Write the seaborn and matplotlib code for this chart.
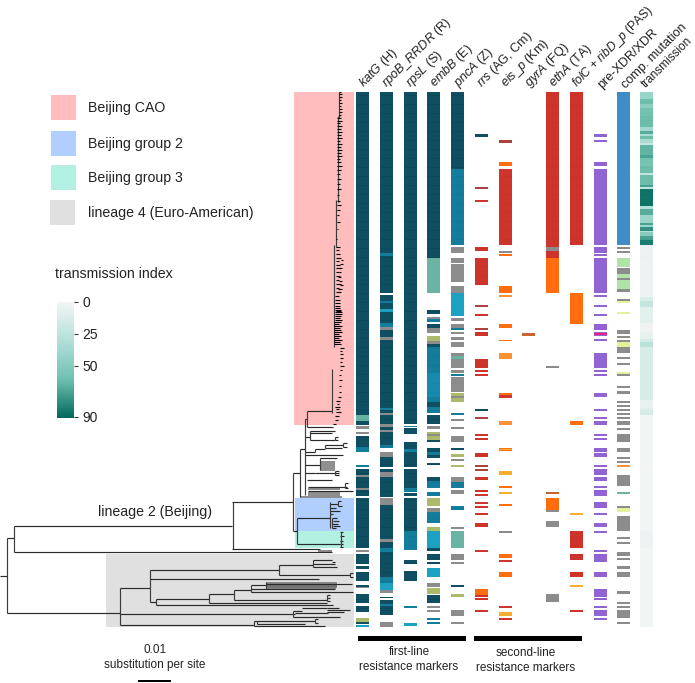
#!/usr/bin/env python
"""Phylogeny of resistant isolates with a strip of resistance markers per isolate."""
import numpy as np
import pandas as pd
import matplotlib
matplotlib.use('Agg')
import matplotlib.pyplot as plt
from matplotlib.colors import ListedColormap, LinearSegmentedColormap
from matplotlib.patches import Rectangle
from matplotlib.transforms import ScaledTranslation
import seaborn as sb

sb.set_style('white')
plt.rcParams['font.family'] = ['Liberation Sans', 'DejaVu Sans']
plt.rcParams['mathtext.fontset'] = 'custom'
plt.rcParams['mathtext.it'] = 'Liberation Sans:italic'
plt.rcParams['mathtext.rm'] = 'Liberation Sans'

n_rows = 535

# marker categories, letter -> colour
category_colors = {
    'D': '#0b4a5e', 'M': '#0e7a99', 'C': '#1288ad', 'B': '#189fc2', 'S': '#66b3a1', 'G': '#8a8a8a',
    'O': '#a9b968', 'R': '#cc3026', 'X': '#a8403a', 'F': '#ff6a0a', 'L': '#fb9030',
    'A': '#f4ae28', 'P': '#8e62d2', 'H': '#ea1f7a', 'U': '#3b8bc6', 'N': '#afe3a3',
    'Y': '#e5f09b', 'T': '#c8602a',
}

column_labels = [
    r'$\mathit{katG}$ (H)', r'$\mathit{rpoB\_RRDR}$ (R)', r'$\mathit{rpsL}$ (S)',
    r'$\mathit{embB}$ (E)', r'$\mathit{pncA}$ (Z)', r'$\mathit{rrs}$ (AG, Cm)',
    r'$\mathit{eis\_p}$ (Km)', r'$\mathit{gyrA}$ (FQ)', r'$\mathit{ethA}$ (TA)',
    r'$\mathit{folC}$ + $\mathit{ribD\_p}$ (PAS)', 'pre-XDR/XDR', 'comp. mutation',
]

# runs of isolates: (first row, last row, category), later runs paint over earlier
katg_runs = [(0, 323, 'D'), (323, 329, 'S'), (329, 333, 'D'), (334, 337, 'G'), (340, 342, 'G'),
             (344, 355, 'D'), (355, 360, 'M'), (373, 375, 'M'), (377, 383, 'D'), (383, 385, 'G'),
             (385, 396, 'D'), (396, 398, 'G'), (398, 404, 'D'), (406, 456, 'D'), (458, 460, 'G'),
             (462, 472, 'D'), (474, 477, 'D'), (480, 489, 'D'), (493, 495, 'D'), (495, 496, 'G'),
             (502, 511, 'D'), (514, 520, 'D'), (526, 530, 'O'), (530, 532, 'D'), (533, 535, 'B')]
rpob_runs = [(0, 201, 'D'), (161, 164, 'M'), (203, 350, 'D'), (209, 211, 'M'), (217, 220, 'B'),
             (231, 235, 'M'), (235, 238, 'G'), (245, 248, 'G'), (316, 318, 'M'), (321, 323, 'G'),
             (332, 335, 'G'), (335, 338, 'D'), (338, 340, 'G'), (340, 350, 'D'), (342, 353, 'D'),
             (353, 356, 'M'), (360, 365, 'G'), (365, 375, 'D'), (377, 380, 'D'), (380, 385, 'G'),
             (385, 400, 'D'), (400, 405, 'D'), (406, 413, 'G'), (413, 447, 'D'), (447, 450, 'G'),
             (450, 456, 'D'), (456, 460, 'M'), (460, 485, 'D'), (485, 491, 'M'), (491, 498, 'B'),
             (498, 501, 'G'), (505, 506, 'D'), (508, 523, 'D'), (512, 514, 'M'), (530, 535, 'G')]
rpsl_runs = [(0, 332, 'D'), (334, 335, 'M'), (336, 342, 'D'), (350, 375, 'D'), (357, 360, 'M'),
             (377, 400, 'D'), (396, 400, 'M'), (401, 404, 'D'), (406, 439, 'D'), (439, 458, 'M'),
             (468, 472, 'D'), (479, 489, 'D'), (514, 516, 'M'), (531, 534, 'B')]
embb_runs = [(0, 166, 'D'), (166, 201, 'S'), (218, 222, 'D'), (225, 227, 'G'), (227, 230, 'M'),
             (232, 236, 'D'), (236, 241, 'G'), (244, 249, 'O'), (249, 252, 'G'), (252, 255, 'D'),
             (255, 281, 'M'), (281, 305, 'C'), (305, 310, 'M'), (310, 315, 'D'), (315, 321, 'M'),
             (323, 332, 'D'), (334, 337, 'G'), (340, 349, 'O'), (342, 344, 'G'), (348, 350, 'D'),
             (356, 360, 'D'), (360, 363, 'M'), (363, 366, 'D'), (371, 373, 'D'), (385, 389, 'D'),
             (389, 396, 'M'), (400, 404, 'M'), (406, 414, 'O'), (416, 420, 'G'), (420, 431, 'M'),
             (435, 439, 'O'), (439, 456, 'B'), (456, 459, 'D'), (462, 468, 'D'), (470, 472, 'D'),
             (476, 485, 'B'), (491, 495, 'G'), (496, 502, 'O'), (503, 511, 'D'), (514, 516, 'G'),
             (518, 520, 'G'), (526, 528, 'M'), (530, 532, 'M')]
pnca_runs = [(0, 77, 'D'), (77, 153, 'M'), (155, 161, 'G'), (166, 171, 'G'), (172, 190, 'G'),
             (194, 201, 'G'), (201, 224, 'B'), (226, 229, 'G'), (232, 236, 'G'), (236, 238, 'M'),
             (240, 242, 'G'), (245, 248, 'G'), (250, 255, 'G'), (261, 276, 'G'), (264, 267, 'S'),
             (278, 281, 'G'), (282, 284, 'M'), (285, 300, 'G'), (301, 304, 'O'), (304, 306, 'G'),
             (306, 310, 'O'), (321, 323, 'M'), (327, 329, 'G'), (335, 337, 'G'), (344, 350, 'G'),
             (356, 358, 'D'), (362, 365, 'O'), (367, 369, 'G'), (373, 375, 'O'), (385, 390, 'G'),
             (390, 396, 'M'), (398, 402, 'G'), (414, 418, 'M'), (435, 437, 'G'), (439, 456, 'S'),
             (462, 468, 'G'), (470, 472, 'G'), (493, 495, 'D'), (502, 505, 'O'), (518, 524, 'G'),
             (530, 532, 'G')]
rrs_runs = [(42, 45, 'D'), (95, 97, 'X'), (108, 110, 'R'), (155, 159, 'R'), (166, 193, 'R'),
            (213, 215, 'X'), (222, 224, 'R'), (236, 238, 'X'), (240, 244, 'R'), (267, 276, 'R'),
            (278, 280, 'R'), (282, 284, 'R'), (317, 319, 'D'), (325, 327, 'X'), (342, 344, 'R'),
            (346, 348, 'R'), (361, 365, 'R'), (373, 375, 'X'), (377, 379, 'X'), (385, 388, 'R'),
            (398, 400, 'R'), (402, 404, 'R'), (410, 412, 'R'), (414, 416, 'R'), (421, 423, 'R'),
            (431, 435, 'R'), (458, 460, 'R'), (497, 503, 'F'), (503, 505, 'R'), (506, 508, 'R'),
            (518, 520, 'R')]
eis_runs = [(48, 51, 'X'), (70, 74, 'F'), (77, 153, 'R'), (159, 161, 'G'), (162, 164, 'F'),
            (194, 201, 'F'), (203, 205, 'L'), (232, 236, 'F'), (248, 249, 'F'), (261, 267, 'L'),
            (301, 303, 'F'), (303, 306, 'R'), (329, 333, 'L'), (356, 359, 'F'), (357, 358, 'A'),
            (379, 383, 'A'), (394, 396, 'F'), (400, 402, 'A'), (412, 414, 'F'), (439, 441, 'G'),
            (462, 466, 'F'), (468, 470, 'R'), (480, 485, 'F'), (514, 516, 'R'), (520, 524, 'A'),
            (526, 528, 'R')]
gyra_runs = [(241, 244, 'T')]
etha_runs = [(0, 155, 'R'), (155, 159, 'G'), (159, 166, 'R'), (166, 201, 'F'), (274, 276, 'G'),
             (400, 402, 'T'), (406, 418, 'F'), (418, 420, 'G'), (429, 435, 'G'), (502, 510, 'G')]
folc_runs = [(0, 153, 'R'), (201, 232, 'F'), (329, 333, 'F'), (421, 423, 'A'), (439, 456, 'R'),
             (462, 468, 'R'), (480, 485, 'R'), (493, 495, 'A'), (518, 520, 'R')]
prexdr_runs = [(42, 45, 'P'), (48, 50, 'P'), (70, 74, 'P'), (77, 153, 'P'), (155, 161, 'P'),
               (162, 164, 'P'), (166, 201, 'P'), (203, 205, 'P'), (213, 215, 'P'), (222, 224, 'P'),
               (232, 238, 'P'), (240, 244, 'P'), (241, 243, 'H'), (247, 249, 'P'), (261, 276, 'P'),
               (278, 280, 'P'), (282, 284, 'P'), (301, 305, 'P'), (317, 319, 'P'), (325, 327, 'P'),
               (329, 333, 'P'), (342, 344, 'P'), (346, 348, 'P'), (356, 360, 'P'), (361, 365, 'P'),
               (373, 375, 'P'), (377, 383, 'P'), (385, 389, 'P'), (394, 396, 'P'), (398, 404, 'P'),
               (410, 416, 'P'), (421, 423, 'P'), (431, 435, 'P'), (439, 441, 'P'), (458, 460, 'P'),
               (462, 468, 'P'), (468, 470, 'P'), (480, 485, 'P'), (497, 505, 'P'), (506, 508, 'P'),
               (514, 516, 'P'), (518, 524, 'P'), (526, 528, 'P')]
comp_runs = [(0, 153, 'U'), (155, 157, 'G'), (159, 161, 'G'), (166, 175, 'N'), (176, 182, 'G'),
             (182, 186, 'N'), (186, 188, 'G'), (188, 197, 'N'), (197, 200, 'G'), (207, 209, 'G'),
             (209, 211, 'Y'), (220, 222, 'Y'), (238, 242, 'G'), (244, 246, 'G'), (248, 250, 'G'),
             (250, 255, 'Y'), (255, 261, 'G'), (265, 267, 'G'), (271, 273, 'G'), (280, 282, 'Y'),
             (282, 284, 'G'), (294, 296, 'G'), (299, 302, 'G'), (309, 311, 'G'), (313, 315, 'G'),
             (317, 319, 'G'), (321, 323, 'G'), (325, 327, 'G'), (329, 333, 'G'), (336, 338, 'G'),
             (342, 350, 'G'), (356, 360, 'G'), (365, 367, 'G'), (369, 371, 'G'), (373, 375, 'L'),
             (383, 394, 'G'), (400, 402, 'S'), (414, 416, 'G'), (416, 420, 'Y'), (424, 439, 'G'),
             (445, 447, 'G'), (450, 452, 'G'), (460, 464, 'G'), (466, 468, 'G'), (474, 477, 'G'),
             (480, 485, 'G'), (499, 502, 'G'), (510, 512, 'G'), (514, 516, 'G'), (518, 526, 'G'),
             (530, 532, 'G')]
marker_runs = [katg_runs, rpob_runs, rpsl_runs, embb_runs, pnca_runs, rrs_runs, eis_runs, gyra_runs,
               etha_runs, folc_runs, prexdr_runs, comp_runs]

# transmission index along the isolates: (first row, last row, index)
transmission_runs = [
    (0, 7, 42), (7, 12, 62), (12, 16, 48), (16, 24, 60), (24, 35, 62), (35, 39, 38), (39, 42, 68),
    (42, 44, 35), (44, 47, 62), (47, 51, 35), (51, 53, 20), (53, 63, 65), (63, 66, 72), (66, 71, 60),
    (71, 74, 58), (74, 81, 62), (81, 83, 22), (83, 93, 62), (93, 95, 72), (95, 97, 25), (97, 114, 88),
    (114, 117, 30), (117, 123, 68), (123, 126, 40), (126, 131, 42), (131, 133, 72), (133, 135, 42),
    (135, 139, 78), (139, 140, 30), (140, 144, 50), (144, 148, 72), (148, 153, 85), (153, 168, 4),
    (168, 205, 3), (205, 209, 12), (209, 215, 22), (215, 231, 8), (231, 240, 2), (240, 247, 6),
    (247, 250, 15), (250, 255, 28), (255, 308, 13), (308, 316, 5), (316, 318, 8), (318, 323, 15),
    (323, 439, 1), (439, 456, 3), (456, 535, 1),
]
transmission_ticks = [0, 25, 50, 90]
transmission_colors = ['#f3f5f5', '#b2e0d8', '#6fc0ae', '#00695c']

legend_labels = ['Beijing CAO', 'Beijing group 2', 'Beijing group 3', 'lineage 4 (Euro-American)']
legend_colors = ['#ffbdbd', '#b0cfff', '#b2f0e2', '#e0e0e0']

# clade shading: (first x, last x, first row, last row, colour)
clade_spans = [(294, 354, 0, 333, legend_colors[0]), (295, 354, 406, 439, legend_colors[1]),
               (295, 354, 439, 456, legend_colors[2]), (106, 354, 462, 535, legend_colors[3])]

# tree, x in divergence units (32.3 = 0.01 substitution per site), y in rows
# horizontal branches: (first x, last x, row)
tree_branches = [
    (0, 7, 484), (7, 14, 446), (7, 120, 521), (14, 232, 434), (14, 332, 460), (232, 293, 410), (232, 320, 457),
    (293, 300, 381), (293, 297, 439), (297, 330, 426), (297, 340, 452),
    (300, 305, 357), (305, 307, 327), (307, 332, 319), (307, 333, 335),
    (340, 343, 440), (340, 344, 444), (340, 343, 449), (340, 343, 452), (340, 343, 455),
    (330, 338, 412), (338, 341, 409), (338, 342, 414), (330, 336, 416), (330, 340, 419), (330, 333, 422),
    (332, 337, 426), (333, 339, 429), (332, 338, 432), (333, 340, 434), (332, 336, 436),
    (310, 335, 339), (310, 332, 341), (310, 335, 348), (335, 338, 345), (335, 338, 348),
    (305, 310, 345), (305, 315, 360), (315, 325, 357), (325, 342, 356), (325, 343, 353), (343, 347, 351),
    (343, 347, 355), (305, 343, 363), (305, 320, 373), (320, 337, 366),
    (305, 315, 381), (315, 339, 381), (335, 339, 379),
    (335, 339, 383), (307, 332, 388), (308, 347, 395), (345, 348, 391), (345, 348, 396), (308, 353, 399),
    (120, 150, 496), (120, 295, 522), (120, 254, 533), (293, 302, 519), (302, 327, 516), (327, 339, 516),
    (327, 350, 518), (295, 328, 521), (293, 340, 525), (327, 344, 520),
    (254, 257, 529), (257, 315, 529), (315, 318, 527), (315, 318, 531), (257, 305, 532), (254, 325, 534),
    (150, 279, 478), (279, 313, 473), (279, 350, 483), (350, 353, 481), (350, 353, 485), (313, 332, 468),
    (313, 337, 475), (313, 335, 472), (332, 335, 470), (150, 319, 487), (150, 156, 510), (156, 209, 507),
    (156, 333, 513), (209, 234, 502), (209, 327, 511), (327, 330, 503), (327, 330, 506), (327, 330, 509),
    (234, 251, 498), (234, 327, 508), (251, 353, 500), (251, 335, 497), (251, 266, 493), (266, 352, 492),
]
# closely packed branches, they merge to a grey band
tree_bundles = [
    (318, 332, 459), (300, 342, 405), (308, 340, 397), (308, 340, 401), (308, 340, 403),
    (320, 335, 370), (320, 335, 372), (320, 335, 374), (320, 335, 376), (320, 335, 378),
    (266, 337, 491), (266, 337, 493), (266, 337, 494), (266, 337, 495), (266, 336, 496),
]
# vertical connectors: (x, first row, last row)
tree_links = [
    (7, 446, 521), (14, 434, 460), (232.5, 410, 457), (293, 381, 439), (297, 426, 452), (340.5, 440, 455),
    (330, 410, 436), (300, 357, 405), (305, 327, 403), (307, 319, 335), (332, 277, 321), (334, 153, 255),
    (336, 108, 155), (337.5, 24, 110), (339, 0, 26), (120, 496, 533), (150, 478, 510), (279, 473, 483),
    (313, 468, 475), (156, 507, 513), (209, 502, 511), (234, 498, 508), (251, 493, 500), (266, 490, 497),
    (293, 519, 525), (254, 529, 534), (257, 529, 532), (310, 339, 348), (315, 357, 360), (325, 353, 356),
    (320, 366, 378), (315, 381, 381), (338, 409, 414), (343, 351, 355), (335, 345, 348), (335, 379, 383),
    (345, 391, 396), (350, 481, 485), (315, 527, 531), (327, 503, 509), (332, 426, 436),
]
# short terminal branches of the CAO ladder: (row, first x, last x)
cao_tips = [
    (0, 339, 341), (2, 339, 342), (5, 339, 342), (8, 339, 341), (11, 339, 342), (14, 339, 341), (17, 339, 342),
    (20, 339, 342), (23, 339, 341), (26, 337, 341), (29, 337, 342), (31, 337, 340), (34, 337, 342), (37, 337, 341),
    (40, 337, 342), (43, 337, 341), (46, 337, 342), (49, 337, 340), (52, 337, 342), (55, 337, 341), (58, 337, 342),
    (61, 337, 341), (64, 337, 342), (67, 337, 340), (70, 337, 341), (74, 337, 342), (78, 337, 341), (82, 337, 340),
    (87, 337, 341), (92, 337, 340), (97, 337, 341), (103, 337, 339), (109, 337, 340), (113, 337, 341), (118, 337, 340),
    (123, 337, 339), (130, 337, 340), (137, 337, 338), (147, 336, 337), (155, 336, 340), (158, 336, 339),
    (162, 336, 340), (166, 336, 341), (169, 336, 339), (173, 336, 340), (176, 336, 341), (180, 336, 339),
    (184, 336, 340), (188, 336, 339), (192, 336, 341), (196, 336, 339),
    (200, 336, 340), (204, 335, 339), (208, 335, 340), (211, 335, 340), (214, 335, 340), (216, 335, 340),
    (218, 335, 341), (220, 335, 342),
    (168, 341, 343), (172, 340, 343), (176, 339, 342), (180, 339, 341), (185, 338, 341), (189, 339, 342),
    (193, 340, 343), (197, 338, 342), (200, 337, 341), (219, 336, 341), (222, 335, 342), (224, 335, 341),
    (226, 335, 340), (228, 335, 342), (230, 334, 341), (232, 334, 339), (234, 334, 342), (236, 334, 340),
    (238, 334, 341), (240, 334, 342), (242, 334, 339), (244, 334, 341), (246, 334, 339), (248, 334, 342),
    (250, 334, 340), (252, 334, 341),
    (256, 340, 344), (259, 340, 342), (262, 340, 343), (266, 340, 343), (270, 340, 342), (274, 340, 344),
    (278, 340, 342), (283, 339, 341), (288, 339, 342), (294, 339, 341), (300, 339, 341), (305, 338, 341),
    (309, 336, 340), (312, 337, 339), (315, 335, 340), (317, 336, 339), (320, 336, 341), (324, 335, 339),
    (328, 335, 338), (332, 333, 336),
]


def px_axes(fig, left, top, right, bottom):
    """Add axes placed by its page pixel box."""
    width, height = fig.get_size_inches() * fig.dpi
    return fig.add_axes([left / width, 1 - bottom / height, (right - left) / width, (bottom - top) / height])


def runs_to_frame(runs, fill=np.nan):
    """Expand the runs of one column into one value per row."""
    values = np.full(n_rows, fill, dtype=float)
    for first, last, value in runs:
        values[first:last] = value
    return pd.DataFrame({'value': values})


def stripe_axes(ax):
    """Faint row texture seen on the strips."""
    ax.hlines(np.arange(0, n_rows, 2.25), 0, 1, color='white', lw=0.3, alpha=0.12)


def top_label(ax, size=9.1, nudge=4):
    """Put the column label above the strip, slanted."""
    ax.xaxis.tick_top()
    ax.tick_params(axis='x', length=0, pad=1)
    shift = ScaledTranslation(nudge / 100, 0, ax.figure.dpi_scale_trans)
    for label in ax.get_xticklabels():
        label.set(rotation=45, ha='left', rotation_mode='anchor', fontsize=size, color='#222222')
        label.set_transform(label.get_transform() + shift)
    ax.set_xlabel('')
    ax.set_ylabel('')


def main():
    fig = plt.figure(figsize=(6.95, 6.83), dpi=100)

    # page layer for legend and captions, in pixels
    page = px_axes(fig, 0, 0, 695, 683)
    page.set_xlim(0, 695)
    page.set_ylim(683, 0)
    page.axis('off')

    # tree
    tree = px_axes(fig, 0, 92, 355, 627)
    tree.set_xlim(0, 355)
    tree.set_ylim(n_rows, 0)
    tree.axis('off')
    for x0, x1, r0, r1, color in clade_spans:
        tree.add_patch(Rectangle((x0, r0), x1 - x0, r1 - r0, color=color, lw=0))
    x0, x1, rows = zip(*tree_bundles)
    tree.hlines(rows, x0, x1, color='#6e6e6e', lw=1.1, clip_on=False)
    x0, x1, rows = zip(*tree_branches)
    tree.hlines(rows, x0, x1, color='#2a2a2a', lw=0.85, clip_on=False)
    xs, r0, r1 = zip(*tree_links)
    tree.vlines(xs, r0, r1, color='#3c3c3c', lw=0.85, clip_on=False)
    rows, x0, x1 = zip(*cao_tips)
    tree.hlines(rows, x0, x1, color='black', lw=0.8)

    # one strip per marker
    codes = {letter: i for i, letter in enumerate(category_colors)}
    cmap = ListedColormap(list(category_colors.values()))
    for i, (label, runs) in enumerate(zip(column_labels, marker_runs)):
        left = 356 + 23.75 * i
        ax = px_axes(fig, left, 92, left + 13.2, 627)
        coded = [(a, b, codes[c]) for a, b, c in runs]
        sb.heatmap(runs_to_frame(coded), ax=ax, cmap=cmap, vmin=-0.5, vmax=len(codes) - 0.5,
                   cbar=False, xticklabels=[label], yticklabels=False)
        stripe_axes(ax)
        # the longest label has to stay on the page
        top_label(ax, size=8.8 if 'folC' in label else 9.1)

    # transmission strip and its colour bar
    ramp = LinearSegmentedColormap.from_list('transmission', transmission_colors)
    ax = px_axes(fig, 640, 92, 653, 627)
    cax = px_axes(fig, 57, 302, 74, 418)
    sb.heatmap(runs_to_frame(transmission_runs), ax=ax, cmap=ramp, vmin=0, vmax=91, cbar_ax=cax,
               cbar_kws={'ticks': transmission_ticks}, xticklabels=['transmission'], yticklabels=False)
    stripe_axes(ax)
    top_label(ax, size=8.5, nudge=1)
    cax.invert_yaxis()
    cax.tick_params(length=3, width=0.8, pad=3, labelsize=10, right=True, color='#333333', labelcolor='#222222')
    for spine in cax.spines.values():
        spine.set_visible(False)
    page.text(55, 274, 'transmission index', fontsize=10.2, va='center', color='#222222')

    # legend swatches
    swatch_tops = [95, 131, 165, 200]
    swatch_lefts = [51, 51, 51, 50]
    for label, color, top, left in zip(legend_labels, legend_colors, swatch_tops, swatch_lefts):
        page.add_patch(Rectangle((left, top), 25, 24.5, color=color, lw=0))
        page.text(88, top + 13, label, fontsize=10.2, va='center', color='#222222')

    # captions
    page.text(155, 512, 'lineage 2 (Beijing)', fontsize=10.2, ha='center', va='center', color='#222222')
    page.text(155, 650, '0.01', fontsize=8.5, ha='center', va='center', color='#222222')
    page.text(155, 665, 'substitution per site', fontsize=8.5, ha='center', va='center', color='#222222')
    page.add_patch(Rectangle((138, 679.5), 33, 2.6, color='black', lw=0))
    page.add_patch(Rectangle((358, 636), 108, 5, color='black', lw=0))
    page.add_patch(Rectangle((474, 636), 108, 5, color='black', lw=0))
    page.text(409, 652, 'first-line', fontsize=8.5, ha='center', va='center', color='#222222')
    page.text(409, 667, 'resistance markers', fontsize=8.5, ha='center', va='center', color='#222222')
    page.text(526, 653, 'second-line', fontsize=8.5, ha='center', va='center', color='#222222')
    page.text(526, 668, 'resistance markers', fontsize=8.5, ha='center', va='center', color='#222222')

    plt.savefig('out.png', dpi=100)


if __name__ == "__main__":
    main()
